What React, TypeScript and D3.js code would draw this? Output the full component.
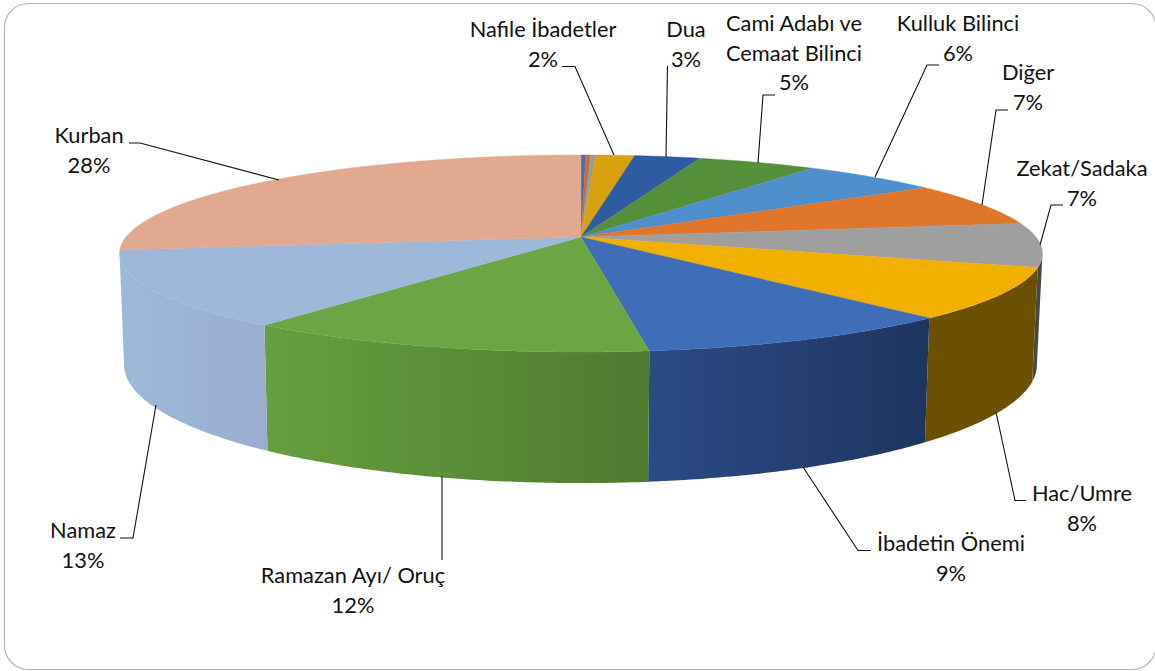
import React, { useEffect, useRef } from "react";
import * as d3 from "d3";

// slices clockwise from 12 o'clock; the first three are too small to get a label
const categories = ["a", "b", "c", "Nafile İbadetler", "Dua", "Cami Adabı ve Cemaat Bilinci", "Kulluk Bilinci", "Diğer", "Zekat/Sadaka", "Hac/Umre", "İbadetin Önemi", "Ramazan Ayı/ Oruç", "Namaz", "Kurban"];
const shares = [0.2, 0.2, 0.2, 1.6, 2.7, 4.9, 5.7, 7.2, 7.2, 8.4, 9.7, 12.3, 12.6, 27.1];

const topColors = ["#4a6fb0", "#c0703a", "#9a9a9a", "#d8a10f", "#2f5ba3", "#568f3a", "#4f90cc", "#e0762b", "#9f9f9f", "#f2b100", "#3f6db8", "#6ca544", "#9db8d8", "#e0a990"];
const wallLeft = ["#2b4a86", "#8a4f20", "#5f5f5f", "#6b5000", "#1f3560", "#4e7a30", "#2f5f90", "#8a4f20", "#4a4a3a", "#6b5000", "#2b4a86", "#65a03f", "#9db9d8", "#e0a990"];
const wallRight = ["#2b4a86", "#8a4f20", "#5f5f5f", "#6b5000", "#1f3560", "#4e7a30", "#2f5f90", "#8a4f20", "#4a4a3a", "#6b5000", "#1f3560", "#4e7a30", "#9aadd0", "#e0a990"];

// label text lines, elbow leader points
const labels = [
  { name: "Kurban", lines: ["Kurban", "28%"], x: 89, y: 143, leader: [[129, 143], [140, 143], [279, 180]] },
  { name: "Nafile İbadetler", lines: ["Nafile İbadetler", "2%"], x: 543, y: 37, leader: [[562, 66.5], [575, 66.5], [614, 155]] },
  { name: "Dua", lines: ["Dua", "3%"], x: 686, y: 37, leader: [[667.5, 66], [666, 157]] },
  { name: "Cami Adabı ve Cemaat Bilinci", lines: ["Cami Adabı ve", "Cemaat Bilinci", "5%"], x: 794, y: 31, leader: [[775, 95], [763, 95], [758, 163]] },
  { name: "Kulluk Bilinci", lines: ["Kulluk Bilinci", "6%"], x: 958, y: 31, leader: [[939, 65], [927, 65], [875, 177]] },
  { name: "Diğer", lines: ["Diğer", "7%"], x: 1028, y: 80, leader: [[1008, 110], [996, 110], [982, 205]] },
  { name: "Zekat/Sadaka", lines: ["Zekat/Sadaka", "7%"], x: 1082, y: 176, leader: [[1063, 205], [1051, 205], [1040, 245]] },
  { name: "Hac/Umre", lines: ["Hac/Umre", "8%"], x: 1082, y: 501, leader: [[1026, 500.5], [1015, 500.5], [996, 412]] },
  { name: "İbadetin Önemi", lines: ["İbadetin Önemi", "9%"], x: 951, y: 551, leader: [[871, 550.5], [858, 550.5], [803, 467]] },
  { name: "Ramazan Ayı/ Oruç", lines: ["Ramazan Ayı/ Oruç", "12%"], x: 353, y: 583, leader: [[442, 560], [442, 476]] },
  { name: "Namaz", lines: ["Namaz", "13%"], x: 83, y: 538, leader: [[120, 538], [133, 538], [156, 405]] },
];

// top and bottom rims of the disc, both in perspective
const topRim = { cx: 581, cy: 237, a: 455, b: 95.8, k: 0.167 };
const bottomRim = { cx: 580.5, cy: 345, a: 450, b: 115, k: 0.167 };

const project = (rim, t) => {
  const u = Math.sin(t);
  const v = Math.cos(t);
  const w = 1 + rim.k * v;
  return [rim.cx + (rim.a * u) / w, rim.cy - (rim.b * v) / w];
};

const sampleArc = (rim, t0, t1) => {
  const n = Math.max(2, Math.ceil((t1 - t0) / 0.01));
  return d3.range(n + 1).map((i) => project(rim, t0 + ((t1 - t0) * i) / n));
};

export default function App() {
  const ref = useRef(null);

  useEffect(() => {
    const svg = d3.select(ref.current);
    svg.selectAll("*").remove();

    const pie = d3.pie().sort(null).value((d) => d);
    const slices = pie(shares);
    const line = d3.line();
    const defs = svg.append("defs");

    // frame
    svg
      .append("rect")
      .attr("x", 4.5)
      .attr("y", 3.5)
      .attr("width", 1151.5)
      .attr("height", 666)
      .attr("rx", 24)
      .attr("fill", "#fff")
      .attr("stroke", "#b4b4b4")
      .attr("stroke-width", 1.2);

    // walls, only where the rim faces the viewer
    const wallStart = Math.acos(-topRim.k);
    const wallEnd = 2 * Math.PI - wallStart;
    slices.forEach((s, i) => {
      const t0 = Math.max(s.startAngle, wallStart);
      const t1 = Math.min(s.endAngle, wallEnd);
      if (t1 <= t0) return;
      const upper = sampleArc(topRim, t0, t1);
      const lower = sampleArc(bottomRim, t0, t1).reverse();
      const xs = upper.concat(lower).map((p) => p[0]);
      const grad = defs
        .append("linearGradient")
        .attr("id", `wall${i}`)
        .attr("gradientUnits", "userSpaceOnUse")
        .attr("x1", d3.min(xs))
        .attr("x2", d3.max(xs))
        .attr("y1", 0)
        .attr("y2", 0);
      grad.append("stop").attr("offset", 0).attr("stop-color", wallLeft[i]);
      grad.append("stop").attr("offset", 1).attr("stop-color", wallRight[i]);
      svg
        .append("path")
        .attr("d", line(upper.concat(lower)) + "Z")
        .attr("fill", `url(#wall${i})`);
    });

    // top face
    slices.forEach((s, i) => {
      const pts = [[topRim.cx, topRim.cy]].concat(sampleArc(topRim, s.startAngle, s.endAngle));
      svg
        .append("path")
        .attr("d", line(pts) + "Z")
        .attr("fill", topColors[i])
        .attr("stroke", topColors[i])
        .attr("stroke-width", 0.4);
    });

    // leaders and labels
    labels.forEach((l) => {
      svg
        .append("path")
        .attr("d", line(l.leader))
        .attr("fill", "none")
        .attr("stroke", "#111")
        .attr("stroke-width", 1.1);
      l.lines.forEach((txt, j) => {
        svg
          .append("text")
          .attr("x", l.x)
          .attr("y", l.y + j * 29.5)
          .attr("text-anchor", "middle")
          .attr("font-family", "Lato, 'Open Sans', sans-serif")
          .attr("font-size", 21.8)
          .attr("fill", "#111")
          .text(txt);
      });
    });
  }, []);

  return (
    <svg
      ref={ref}
      width={1155}
      height={671}
      style={{ position: "absolute", left: 0, top: 0, background: "#fff" }}
    />
  );
}
